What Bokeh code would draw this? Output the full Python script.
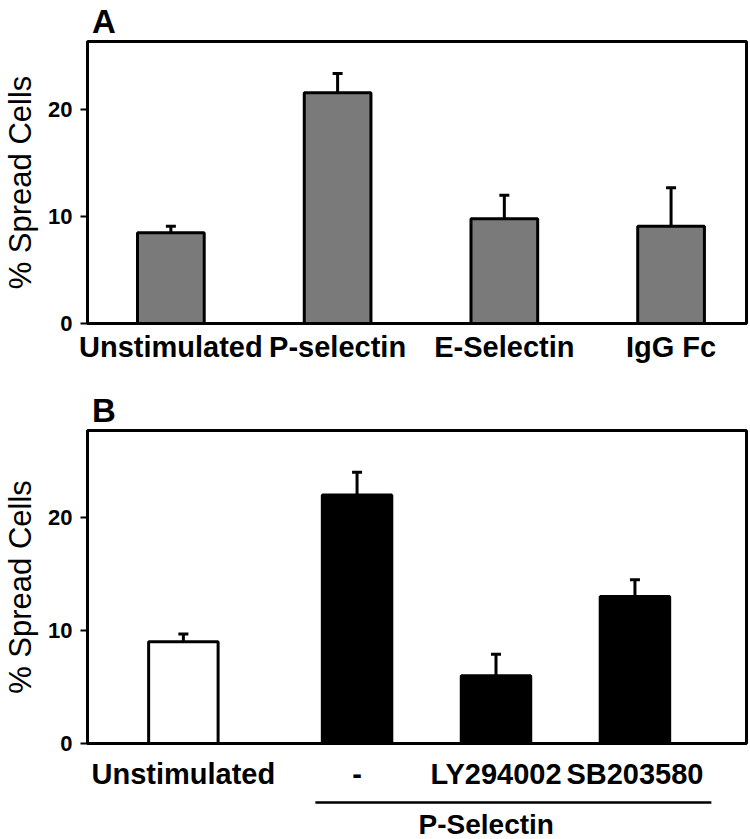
from bokeh.plotting import figure
from bokeh.models import ColumnDataSource, Range1d, FixedTicker, Whisker, TeeHead
from bokeh.layouts import column
from bokeh.embed import file_html
from bokeh.resources import INLINE
from bokeh.core.properties import value

# ---------------- data ----------------
a_categories = ["Unstimulated", "P-selectin", "E-Selectin", "IgG Fc"]
a_values = [8.5, 21.6, 9.8, 9.1]
a_upper = [9.1, 23.4, 12.0, 12.7]

b_categories = ["Unstimulated", "-", "LY294002", "SB203580"]
b_groups = ["", "P-Selectin", "P-Selectin", "P-Selectin"]
b_values = [9.0, 22.0, 6.0, 13.0]
b_upper = [9.7, 24.0, 7.9, 14.5]

y_ticks = [0, 10, 20]
y_label = "% Spread Cells"
panel_letters = ["A", "B"]

FONT = "Liberation Sans"
W = 750


def bare(p):
    p.outline_line_color = None
    p.grid.visible = False
    p.background_fill_color = "white"
    p.border_fill_color = "white"


def letter_fig(height, letter, y):
    f = figure(width=W, height=height, output_backend="svg", toolbar_location=None,
               x_range=Range1d(0, W), y_range=Range1d(0, 1),
               min_border_left=0, min_border_right=0, min_border_top=0,
               min_border_bottom=0, x_axis_location=None, y_axis_location=None)
    bare(f)
    f.text(x=[5], y=[y], text=[letter], text_font=value(FONT), text_font_size="33px",
           text_font_style="bold", text_align="left", text_baseline="top",
           text_color="black")
    return f


def style(p, xs, labels):
    p.outline_line_color = "black"
    p.outline_line_width = 3
    p.grid.visible = False
    p.background_fill_color = "white"
    p.border_fill_color = "white"
    for ax in p.axis:
        ax.axis_line_width = 3
        ax.axis_line_color = "black"
        ax.minor_tick_line_color = None
    p.xaxis.major_tick_line_color = None
    p.xaxis.major_tick_out = 0
    p.xaxis.major_tick_in = 0
    p.xaxis.ticker = FixedTicker(ticks=xs)
    p.xaxis.major_label_overrides = {x: l for x, l in zip(xs, labels)}
    p.xaxis.major_label_text_font = FONT
    p.xaxis.major_label_text_font_size = "29px"
    p.xaxis.major_label_text_font_style = "bold"
    p.xaxis.major_label_text_color = "black"
    p.yaxis.ticker = FixedTicker(ticks=y_ticks)
    p.yaxis.major_tick_line_width = 2
    p.yaxis.major_tick_out = 7
    p.yaxis.major_tick_in = 0
    p.yaxis.major_label_standoff = 8
    p.yaxis.major_label_text_font = FONT
    p.yaxis.major_label_text_font_size = "22px"
    p.yaxis.major_label_text_font_style = "bold"
    p.yaxis.major_label_text_color = "black"
    p.yaxis.axis_label = y_label
    p.yaxis.axis_label_text_font = FONT
    p.yaxis.axis_label_text_font_size = "31px"
    p.yaxis.axis_label_text_font_style = "normal"
    p.yaxis.axis_label_text_color = "black"
    p.yaxis.axis_label_standoff = 7


def add_bars(p, xs, vals, ups, fills, width):
    src = ColumnDataSource(dict(x=xs, val=vals, upper=ups, fill=fills))
    p.vbar(x="x", top="val", bottom=0, width=width, source=src,
           fill_color="fill", line_color="black", line_width=3)
    w = Whisker(source=src, base="x", lower="val", upper="upper",
                upper_head=TeeHead(size=10, line_width=3, line_color="black"),
                lower_head=None, line_width=3, line_color="black")
    p.add_layout(w)


# ---------------- panel A ----------------
fA = letter_fig(38, panel_letters[0], 1 - 2 / 38)

xa = [float(i) for i in range(len(a_categories))]
pA = figure(width=W, height=342, output_backend="svg", toolbar_location=None,
            x_range=Range1d(-0.5, -0.5 + 664 / 168), y_range=Range1d(0, 26.4),
            min_border_left=83, min_border_right=3, min_border_top=3,
            min_border_bottom=57)
style(pA, xa, a_categories)
pA.xaxis.major_label_standoff = 7
add_bars(pA, xa, a_values, a_upper, ["#7a7a7a"] * len(xa), 0.4)

# ---------------- panel B ----------------
fB = letter_fig(48, panel_letters[1], 1 - 11 / 48)

xb = []
gap = 0.25
for i, g in enumerate(b_groups):
    xb.append(i + (gap if g else 0.0))
fills_b = ["white" if g == "" else "black" for g in b_groups]

pB = figure(width=W, height=370, output_backend="svg", toolbar_location=None,
            x_range=Range1d(-0.69, -0.69 + 664 / 140), y_range=Range1d(0, 27.7),
            min_border_left=82, min_border_right=4, min_border_top=2,
            min_border_bottom=55)
style(pB, xb, b_categories)
pB.xaxis.major_label_standoff = 14
add_bars(pB, xb, b_values, b_upper, fills_b, 0.5)

# ---------------- group bracket under panel B ----------------
grp_x = [x for x, g in zip(xb, b_groups) if g]
grp_name = [g for g in b_groups if g][0]
hC = 41
pC = figure(width=W, height=hC, output_backend="svg", toolbar_location=None,
            x_range=pB.x_range, y_range=Range1d(0, 1),
            min_border_left=82, min_border_right=4, min_border_top=0,
            min_border_bottom=0, x_axis_location=None, y_axis_location=None)
bare(pC)
pC.segment(x0=[min(grp_x) - 0.3], x1=[max(grp_x) + 0.55],
           y0=[1 - 4 / hC], y1=[1 - 4 / hC],
           line_color="black", line_width=2.5)
pC.text(x=[sum(grp_x) / len(grp_x) - 0.07], y=[1 - 10 / hC], text=[grp_name],
        text_font=value(FONT), text_font_size="28px", text_font_style="bold",
        text_align="center", text_baseline="top", text_color="black")

layout = column(fA, pA, fB, pB, pC, spacing=0)
open("out.html", "w").write(file_html(layout, INLINE))
